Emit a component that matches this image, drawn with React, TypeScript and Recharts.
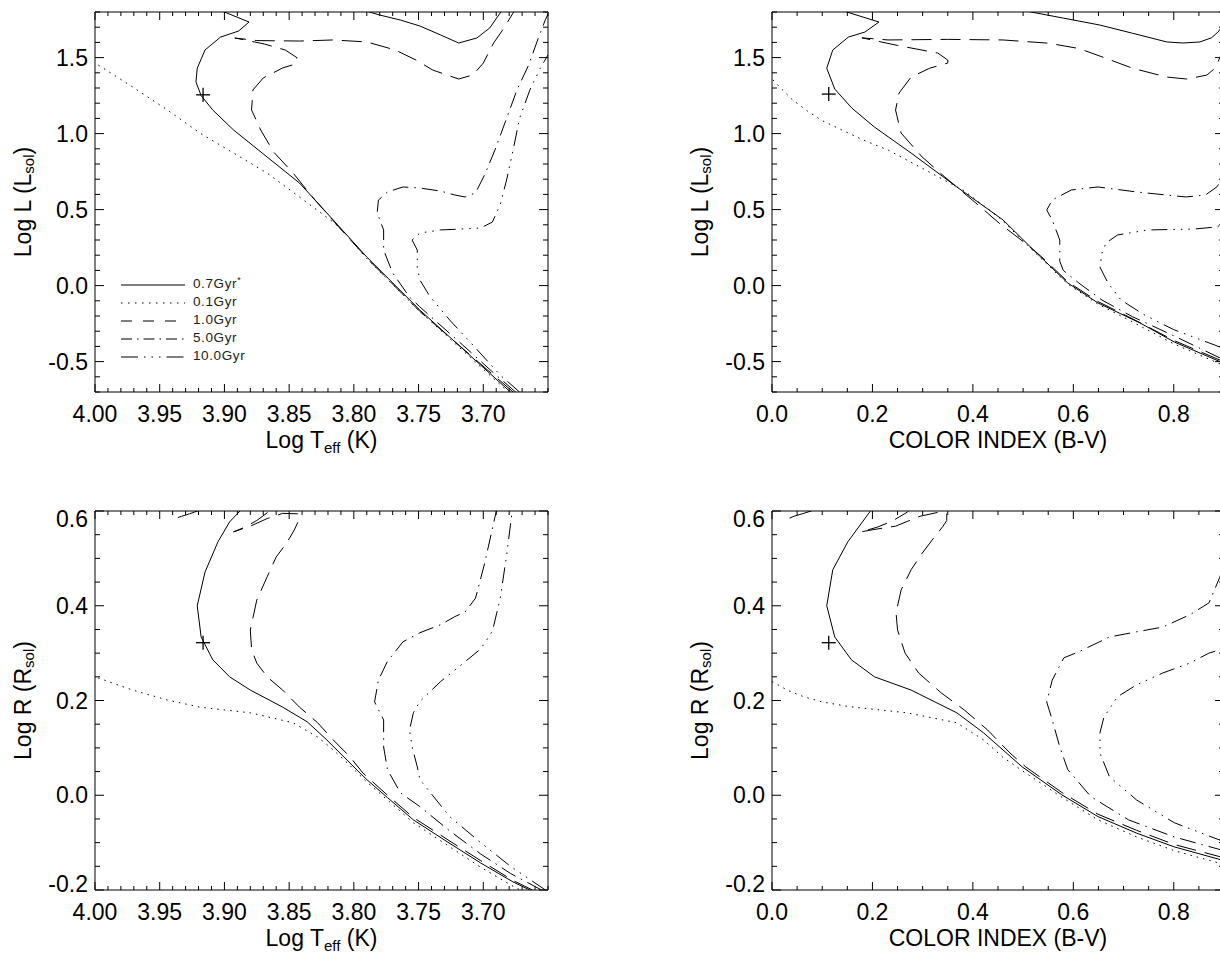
import type { ReactNode } from 'react';
import { ComposedChart, Line, Scatter, XAxis, YAxis } from 'recharts';

type Pt = [number, number];

// ---- log Teff vs log L
const teffLum07: Pt[] = [
  [3.679, -0.7], [3.749, -0.161], [3.79, 0.188], [3.816, 0.432], [3.842, 0.675], [3.867, 0.846],
  [3.893, 1.024], [3.909, 1.155], [3.918, 1.25], [3.922, 1.34], [3.921, 1.43], [3.915, 1.55],
  [3.903, 1.635], [3.889, 1.675], [3.881, 1.734], [3.9, 1.8], [3.905, 1.82],
];
const teffLum07b: Pt[] = [
  [3.792, 1.81], [3.78, 1.78], [3.764, 1.747], [3.749, 1.708], [3.733, 1.649], [3.719, 1.596],
  [3.705, 1.629], [3.695, 1.695], [3.687, 1.793], [3.685, 1.82],
];
const teffLum01: Pt[] = [
  [3.68, -0.705], [3.749, -0.17], [3.79, 0.178], [3.808, 0.355], [3.816, 0.418], [3.842, 0.583],
  [3.867, 0.74], [3.893, 0.872], [3.919, 1.004], [3.944, 1.155], [3.971, 1.307], [4.0, 1.465],
];
const teffLum10: Pt[] = [
  [3.677, -0.7], [3.749, -0.17], [3.787, 0.155], [3.811, 0.379], [3.832, 0.583], [3.847, 0.741],
  [3.862, 0.879], [3.872, 1.024], [3.879, 1.155], [3.878, 1.287], [3.87, 1.366], [3.855, 1.432],
  [3.845, 1.458], [3.844, 1.5], [3.853, 1.55], [3.869, 1.589], [3.884, 1.616], [3.892, 1.629],
  [3.875, 1.612], [3.842, 1.609], [3.816, 1.616], [3.79, 1.603], [3.768, 1.55], [3.752, 1.484],
  [3.739, 1.418], [3.719, 1.359], [3.708, 1.386], [3.7, 1.464], [3.692, 1.596], [3.685, 1.682],
  [3.677, 1.793], [3.675, 1.82],
];
const teffLum50: Pt[] = [
  [3.675, -0.7], [3.69, -0.59], [3.716, -0.39], [3.749, -0.14], [3.757, -0.075], [3.77, 0.083],
  [3.777, 0.234], [3.777, 0.366], [3.782, 0.478], [3.781, 0.563], [3.774, 0.616], [3.762, 0.649],
  [3.749, 0.642], [3.733, 0.622], [3.722, 0.596], [3.714, 0.583], [3.706, 0.61], [3.699, 0.728],
  [3.691, 0.892], [3.682, 1.1], [3.674, 1.287], [3.665, 1.45], [3.658, 1.616], [3.652, 1.75],
  [3.648, 1.82],
];
const teffLum100: Pt[] = [
  [3.672, -0.7], [3.687, -0.588], [3.706, -0.41], [3.726, -0.226], [3.741, -0.075], [3.749, 0.037],
  [3.751, 0.12], [3.751, 0.234], [3.755, 0.3], [3.749, 0.346], [3.733, 0.366], [3.718, 0.372],
  [3.702, 0.379], [3.693, 0.418], [3.687, 0.53], [3.682, 0.695], [3.677, 0.89], [3.672, 1.1],
  [3.664, 1.287], [3.656, 1.43], [3.65, 1.517], [3.645, 1.58],
];

// ---- B-V vs log L
const bvLum07: Pt[] = [
  [0.892, -0.5], [0.801, -0.371], [0.733, -0.246], [0.649, -0.114], [0.589, 0.017], [0.535, 0.188],
  [0.46, 0.432], [0.368, 0.649], [0.277, 0.872], [0.204, 1.043], [0.159, 1.168], [0.125, 1.293],
  [0.109, 1.43], [0.121, 1.55], [0.152, 1.635], [0.185, 1.668], [0.213, 1.734], [0.149, 1.8],
  [0.14, 1.82],
];
const bvLum07b: Pt[] = [
  [0.5, 1.81], [0.58, 1.76], [0.653, 1.714], [0.718, 1.66], [0.786, 1.603], [0.818, 1.596],
  [0.852, 1.603], [0.875, 1.63], [0.888, 1.668], [0.9, 1.72],
];
const bvLum01: Pt[] = [
  [0.892, -0.515], [0.801, -0.385], [0.71, -0.225], [0.649, -0.122], [0.589, 0.01], [0.535, 0.18],
  [0.455, 0.44], [0.42, 0.53], [0.382, 0.625], [0.306, 0.76], [0.231, 0.892], [0.18, 0.96],
  [0.139, 1.024], [0.1, 1.085], [0.07, 1.15], [0.04, 1.225], [0.02, 1.29], [0.0, 1.36],
];
const bvLum10: Pt[] = [
  [0.892, -0.49], [0.801, -0.362], [0.71, -0.205], [0.649, -0.105], [0.589, 0.025], [0.535, 0.195],
  [0.5, 0.29], [0.452, 0.412], [0.406, 0.543], [0.344, 0.715], [0.299, 0.846], [0.257, 1.004],
  [0.246, 1.155], [0.253, 1.267], [0.277, 1.372], [0.314, 1.43], [0.35, 1.464], [0.35, 1.484],
  [0.33, 1.53], [0.25, 1.58], [0.179, 1.63], [0.231, 1.616], [0.35, 1.62], [0.46, 1.616],
  [0.55, 1.595], [0.611, 1.56], [0.653, 1.51], [0.718, 1.43], [0.786, 1.372], [0.826, 1.359],
  [0.866, 1.385], [0.882, 1.43], [0.892, 1.5], [0.9, 1.58],
];
const bvLum50: Pt[] = [
  [0.892, -0.476], [0.8, -0.33], [0.718, -0.205], [0.657, -0.095], [0.611, 0.017], [0.58, 0.1],
  [0.573, 0.16], [0.573, 0.3], [0.558, 0.432], [0.547, 0.497], [0.558, 0.563], [0.596, 0.629],
  [0.649, 0.649], [0.726, 0.616], [0.824, 0.583], [0.863, 0.596], [0.886, 0.65], [0.9, 0.72],
];
const bvLum100: Pt[] = [
  [0.892, -0.404], [0.8, -0.29], [0.74, -0.19], [0.695, -0.095], [0.669, 0.017], [0.653, 0.122],
  [0.657, 0.214], [0.665, 0.28], [0.688, 0.333], [0.748, 0.366], [0.84, 0.372], [0.886, 0.386],
  [0.9, 0.41],
];

// ---- log Teff vs log R
const teffRad07: Pt[] = [
  [3.664, -0.2], [3.677, -0.183], [3.702, -0.143], [3.728, -0.098], [3.754, -0.052], [3.774, -0.005],
  [3.79, 0.033], [3.803, 0.068], [3.821, 0.117], [3.836, 0.155], [3.855, 0.186], [3.88, 0.222],
  [3.896, 0.25], [3.909, 0.286], [3.918, 0.334], [3.921, 0.4], [3.915, 0.471], [3.905, 0.535],
  [3.896, 0.577], [3.888, 0.6], [3.884, 0.61],
];
const teffRad07b: Pt[] = [[3.936, 0.586], [3.933, 0.589], [3.927, 0.594], [3.918, 0.603]];
const teffRad01: Pt[] = [
  [3.668, -0.205], [3.677, -0.192], [3.702, -0.152], [3.754, -0.058], [3.79, 0.028], [3.805, 0.068],
  [3.816, 0.096], [3.828, 0.123], [3.847, 0.153], [3.88, 0.174], [3.919, 0.186], [3.944, 0.201],
  [3.971, 0.222], [4.0, 0.25],
];
const teffRad10: Pt[] = [
  [3.662, -0.2], [3.677, -0.18], [3.702, -0.138], [3.728, -0.093], [3.754, -0.047], [3.774, 0.0],
  [3.793, 0.047], [3.803, 0.081], [3.816, 0.117], [3.828, 0.153], [3.842, 0.186], [3.855, 0.222],
  [3.867, 0.25], [3.875, 0.279], [3.879, 0.307], [3.88, 0.349], [3.875, 0.412], [3.867, 0.461],
  [3.86, 0.503], [3.852, 0.532], [3.846, 0.56], [3.843, 0.578], [3.843, 0.594], [3.855, 0.595],
  [3.867, 0.584], [3.88, 0.568], [3.893, 0.556], [3.884, 0.566], [3.875, 0.58], [3.866, 0.598],
  [3.862, 0.61],
];
const teffRad50: Pt[] = [
  [3.655, -0.2], [3.679, -0.165], [3.702, -0.124], [3.726, -0.075], [3.749, -0.024], [3.764, 0.005],
  [3.774, 0.054], [3.777, 0.102], [3.777, 0.159], [3.784, 0.197], [3.781, 0.243], [3.774, 0.283],
  [3.762, 0.324], [3.749, 0.343], [3.733, 0.36], [3.722, 0.377], [3.714, 0.387], [3.706, 0.416],
  [3.699, 0.489], [3.691, 0.587], [3.689, 0.61],
];
const teffRad100: Pt[] = [
  [3.652, -0.2], [3.679, -0.15], [3.702, -0.1], [3.726, -0.045], [3.749, 0.033], [3.751, 0.06],
  [3.755, 0.102], [3.757, 0.138], [3.754, 0.174], [3.749, 0.198], [3.733, 0.24], [3.718, 0.273],
  [3.702, 0.309], [3.693, 0.346], [3.687, 0.414], [3.682, 0.506], [3.677, 0.614],
];

// ---- B-V vs log R
const bvRad07: Pt[] = [
  [0.9, -0.138], [0.801, -0.109], [0.726, -0.08], [0.649, -0.045], [0.577, 0.001], [0.498, 0.06],
  [0.421, 0.132], [0.368, 0.174], [0.277, 0.222], [0.204, 0.25], [0.158, 0.286], [0.125, 0.334],
  [0.109, 0.4], [0.121, 0.476], [0.151, 0.535], [0.196, 0.6], [0.205, 0.61],
];
const bvRad07b: Pt[] = [[0.035, 0.585], [0.044, 0.589], [0.06, 0.594], [0.078, 0.6], [0.085, 0.605]];
const bvRad01: Pt[] = [
  [0.0, 0.24], [0.006, 0.237], [0.03, 0.222], [0.063, 0.208], [0.1, 0.197], [0.154, 0.187],
  [0.269, 0.174], [0.368, 0.153], [0.421, 0.117], [0.459, 0.081], [0.498, 0.052], [0.577, -0.004],
  [0.649, -0.052], [0.726, -0.088], [0.801, -0.117], [0.9, -0.146],
];
const bvRad10: Pt[] = [
  [0.9, -0.132], [0.801, -0.104], [0.726, -0.074], [0.649, -0.04], [0.577, 0.006], [0.505, 0.06],
  [0.474, 0.089], [0.429, 0.138], [0.383, 0.18], [0.337, 0.216], [0.292, 0.258], [0.265, 0.3],
  [0.25, 0.349], [0.247, 0.385], [0.257, 0.433], [0.277, 0.476], [0.299, 0.511], [0.322, 0.543],
  [0.34, 0.567], [0.348, 0.58], [0.348, 0.594], [0.33, 0.597], [0.295, 0.589], [0.246, 0.568],
  [0.209, 0.562], [0.177, 0.556], [0.21, 0.566], [0.24, 0.579], [0.27, 0.598], [0.28, 0.61],
];
const bvRad50: Pt[] = [
  [0.9, -0.117], [0.801, -0.088], [0.71, -0.052], [0.635, -0.003], [0.589, 0.054], [0.573, 0.102],
  [0.558, 0.159], [0.547, 0.197], [0.558, 0.243], [0.581, 0.29], [0.611, 0.303], [0.672, 0.334],
  [0.726, 0.345], [0.778, 0.355], [0.832, 0.381], [0.87, 0.406], [0.892, 0.461], [0.9, 0.49],
];
const bvRad100: Pt[] = [
  [0.9, -0.098], [0.801, -0.058], [0.726, -0.01], [0.672, 0.039], [0.653, 0.089], [0.653, 0.132],
  [0.661, 0.165], [0.688, 0.208], [0.726, 0.233], [0.778, 0.258], [0.832, 0.279], [0.87, 0.3],
  [0.892, 0.307], [0.9, 0.31],
];

// observed star (+)
const starTeffLum: Pt = [3.9165, 1.255];
const starBvLum: Pt = [0.113, 1.26];
const starTeffRad: Pt = [3.9165, 0.322];
const starBvRad: Pt = [0.113, 0.322];

// axis labels
const teffLabels = [4.0, 3.95, 3.9, 3.85, 3.8, 3.75, 3.7];
const bvLabels = [0, 0.2, 0.4, 0.6, 0.8];
const lumLabels = [-0.5, 0, 0.5, 1.0, 1.5];
const radLabels = [-0.2, 0, 0.2, 0.4, 0.6];

// ages, in legend order: 0.7, 0.1, 1.0, 5.0, 10.0 Gyr
const ageNames = ['0.7Gyr', '0.1Gyr', '1.0Gyr', '5.0Gyr', '10.0Gyr'];
const plotDash = ['', '1.5 5', '20 9', '16 6 1.5 6', '16 6 1.5 6 1.5 6 1.5 6'];
const keyDash = ['', '1.5 5.5', '11 11', '11 5 1.5 5', '17 6 1.5 6 1.5 6 1.5 6'];

const FONT = '"Liberation Sans", Arial, Helvetica, sans-serif';

const range = (lo: number, hi: number, step: number) => {
  const n = Math.round((hi - lo) / step);
  return Array.from({ length: n + 1 }, (_, i) => Math.round((lo + i * step) * 1e4) / 1e4);
};

const toRows = (pts: Pt[]) => pts.map(([x, y]) => ({ x, y }));

type AxisSpec = {
  domain: [number, number];
  minor: number;
  labels: number[];
  digits: number;
};

type Box = { top: number; right: number; bottom: number; left: number };

type PanelProps = {
  left: number;
  top: number;
  width: number;
  height: number;
  plot: Box; // frame position inside the panel
  x: AxisSpec;
  y: AxisSpec;
  reversed?: boolean;
  xTitle: ReactNode;
  yTitle: ReactNode;
  tracks: [number, Pt[]][];
  star: Pt;
  extra?: ReactNode;
};

const plus = (p: any) => (
  <g stroke="#000" strokeWidth={1.3}>
    <line x1={p.cx - 7} y1={p.cy} x2={p.cx + 7} y2={p.cy} />
    <line x1={p.cx} y1={p.cy - 7} x2={p.cx} y2={p.cy + 7} />
  </g>
);

const near = (a: number, b: number) => Math.abs(a - b) < 1e-6;

// every axis gets a 1px band, so the chart margin is the frame inset minus 1
const AX = 1;

const Panel = ({ left, top, width, height, plot, x, y, reversed, xTitle, yTitle, tracks, star, extra }: PanelProps) => {
  const xTicks = range(x.domain[0], x.domain[1], x.minor);
  const yTicks = range(y.domain[0], y.domain[1], y.minor);
  const plotW = width - plot.left - plot.right;
  const plotH = height - plot.top - plot.bottom;
  const margin = { top: plot.top - AX, right: plot.right - AX, bottom: plot.bottom - AX, left: plot.left - AX };

  const tickX = (side: 'bottom' | 'top') => (p: any) => {
    const v = p.payload.value;
    const major = x.labels.some((l) => near(l, v));
    const dir = side === 'bottom' ? -1 : 1;
    return (
      <g>
        <line x1={p.x} y1={p.y} x2={p.x} y2={p.y + dir * (major ? 8 : 4)} stroke="#000" />
        {side === 'bottom' && major && (
          <text x={p.x} y={p.y + 30} textAnchor="middle" fontSize={23} fontFamily={FONT} fill="#000">
            {v.toFixed(x.digits)}
          </text>
        )}
      </g>
    );
  };

  const tickY = (side: 'left' | 'right') => (p: any) => {
    const v = p.payload.value;
    const major = y.labels.some((l) => near(l, v));
    const dir = side === 'left' ? 1 : -1;
    // labels sitting on the frame corners are nudged inward
    const shift = near(v, y.domain[1]) ? 8 : near(v, y.domain[0]) ? -6 : 0;
    return (
      <g>
        <line x1={p.x} y1={p.y} x2={p.x + dir * (major ? 9 : 5)} y2={p.y} stroke="#000" />
        {side === 'left' && major && (
          <text x={p.x - 7} y={p.y + 8 + shift} textAnchor="end" fontSize={23} fontFamily={FONT} fill="#000">
            {v.toFixed(y.digits)}
          </text>
        )}
      </g>
    );
  };

  const axisLine = { stroke: '#000', strokeWidth: 1 };
  const cx = plot.left + plotW / 2;
  const cy = plot.top + plotH / 2;
  const ty = plot.left - 72;

  return (
    <div style={{ position: 'absolute', left, top, width, height }}>
      <ComposedChart width={width} height={height} margin={margin}>
        <XAxis xAxisId="x" dataKey="x" type="number" domain={x.domain} reversed={reversed} allowDataOverflow
          ticks={xTicks} interval={0} height={AX} tickSize={0} tickMargin={0} tickLine={false}
          axisLine={axisLine} tick={tickX('bottom')} />
        <XAxis xAxisId="xt" orientation="top" dataKey="x" type="number" domain={x.domain} reversed={reversed}
          allowDataOverflow ticks={xTicks} interval={0} height={AX} tickSize={0} tickMargin={0} tickLine={false}
          axisLine={axisLine} tick={tickX('top')} />
        <YAxis yAxisId="y" dataKey="y" type="number" domain={y.domain} allowDataOverflow ticks={yTicks}
          interval={0} width={AX} tickSize={0} tickMargin={0} tickLine={false} axisLine={axisLine}
          tick={tickY('left')} />
        <YAxis yAxisId="yr" orientation="right" dataKey="y" type="number" domain={y.domain} allowDataOverflow
          ticks={yTicks} interval={0} width={AX} tickSize={0} tickMargin={0} tickLine={false}
          axisLine={axisLine} tick={tickY('right')} />
        {tracks.map(([age, pts], i) => (
          <Line key={i} xAxisId="x" yAxisId="y" data={toRows(pts)} dataKey="y" type="linear"
            stroke="#000" strokeWidth={1} strokeDasharray={plotDash[age] || undefined}
            dot={false} activeDot={false} isAnimationActive={false} />
        ))}
        <Scatter xAxisId="x" yAxisId="y" data={toRows([star])} dataKey="y" shape={plus}
          isAnimationActive={false} />
      </ComposedChart>
      <svg width={width} height={height} style={{ position: 'absolute', left: 0, top: 0, pointerEvents: 'none' }}>
        <text x={cx} y={plot.top + plotH + 56} textAnchor="middle" fontSize={23} fontFamily={FONT} fill="#000">
          {xTitle}
        </text>
        <text x={ty} y={cy} transform={`rotate(-90 ${ty} ${cy})`} textAnchor="middle" dominantBaseline="central"
          fontSize={23} fontFamily={FONT} fill="#000">
          {yTitle}
        </text>
        {extra}
      </svg>
    </div>
  );
};

const AgeKey = () => (
  <g fontFamily={FONT} fontSize={13.5} fill="#222" letterSpacing={0.6}>
    {ageNames.map((name, i) => {
      const ly = 285 + i * 18;
      return (
        <g key={name}>
          <line x1={121} y1={ly} x2={185} y2={ly} stroke="#000" strokeWidth={1}
            strokeDasharray={keyDash[i] || undefined} />
          <text x={193} y={ly + 3}>
            {name}
            {i === 0 && <tspan fontSize={9} dy={-5}>*</tspan>}
          </text>
        </g>
      );
    })}
  </g>
);

const teffTitle = (
  <>
    Log T<tspan fontSize={15} dy={5}>eff</tspan>
    <tspan dy={-5}> (K)</tspan>
  </>
);
const bvTitle = 'COLOR INDEX (B-V)';
const lumTitle = (
  <>
    Log L (L<tspan fontSize={15} dy={5}>sol</tspan>
    <tspan dy={-5}>)</tspan>
  </>
);
const radTitle = (
  <>
    Log R (R<tspan fontSize={15} dy={5}>sol</tspan>
    <tspan dy={-5}>)</tspan>
  </>
);

const teffAxis: AxisSpec = { domain: [3.65, 4.0], minor: 0.01, labels: teffLabels, digits: 2 };
const bvAxis: AxisSpec = { domain: [0, 0.9], minor: 0.05, labels: bvLabels, digits: 1 };
const lumAxis: AxisSpec = { domain: [-0.7, 1.8], minor: 0.1, labels: lumLabels, digits: 1 };
const radAxis: AxisSpec = { domain: [-0.2, 0.6], minor: 0.05, labels: radLabels, digits: 1 };

const upperLeft: Box = { top: 12, right: 12, bottom: 78, left: 95 };
const upperRight: Box = { top: 12, right: 12, bottom: 78, left: 92 };
const lowerLeft: Box = { top: 31, right: 12, bottom: 65, left: 95 };
const lowerRight: Box = { top: 31, right: 12, bottom: 65, left: 92 };

export default function App() {
  return (
    <div style={{ position: 'fixed', left: 0, top: 0, width: 1220, height: 955, overflow: 'hidden', background: '#fff' }}>
      <Panel left={0} top={0} width={560} height={470} plot={upperLeft} x={teffAxis} y={lumAxis} reversed
        xTitle={teffTitle} yTitle={lumTitle} star={starTeffLum} extra={<AgeKey />}
        tracks={[[0, teffLum07], [0, teffLum07b], [1, teffLum01], [2, teffLum10], [3, teffLum50], [4, teffLum100]]} />
      <Panel left={680} top={0} width={556} height={470} plot={upperRight} x={bvAxis} y={lumAxis}
        xTitle={bvTitle} yTitle={lumTitle} star={starBvLum}
        tracks={[[0, bvLum07], [0, bvLum07b], [1, bvLum01], [2, bvLum10], [3, bvLum50], [4, bvLum100]]} />
      <Panel left={0} top={480} width={560} height={475} plot={lowerLeft} x={teffAxis} y={radAxis} reversed
        xTitle={teffTitle} yTitle={radTitle} star={starTeffRad}
        tracks={[[0, teffRad07], [0, teffRad07b], [1, teffRad01], [2, teffRad10], [3, teffRad50], [4, teffRad100]]} />
      <Panel left={680} top={480} width={556} height={475} plot={lowerRight} x={bvAxis} y={radAxis}
        xTitle={bvTitle} yTitle={radTitle} star={starBvRad}
        tracks={[[0, bvRad07], [0, bvRad07b], [1, bvRad01], [2, bvRad10], [3, bvRad50], [4, bvRad100]]} />
    </div>
  );
}
